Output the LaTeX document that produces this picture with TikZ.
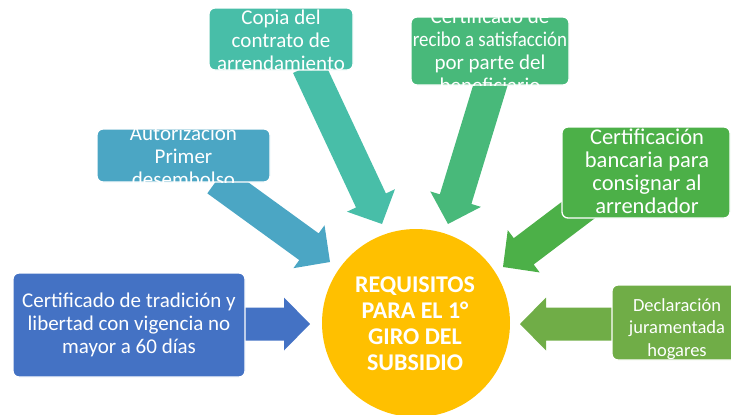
\documentclass[tikz,border=0pt]{standalone}
\usepackage{fontspec}
\setmainfont{Carlito}
\usetikzlibrary{calc}
\definecolor{cblue}{HTML}{4472C4}
\definecolor{cauto}{HTML}{4BA6C4}
\definecolor{ccopia}{HTML}{48BEA8}
\definecolor{crecibo}{HTML}{48B97A}
\definecolor{cbanc}{HTML}{4CB048}
\definecolor{cdecl}{HTML}{70AD47}
\definecolor{ccirc}{HTML}{FFC000}
\tikzset{
  box/.style={draw=white, line width=1.3pt, rounded corners=6pt, inner sep=0pt},
  btext/.style={text=white, align=center, inner sep=0pt, font=\fontsize{21}{23}\selectfont},
}
\newcommand\blockarrow[3]{%
  \coordinate (ab) at ($(#3)!26pt!(#2)$);
  \fill[#1] ($(#2)!16.5pt!90:(#3)$) -- ($(ab)!16.5pt!90:(#3)$) -- ($(ab)!26.5pt!90:(#3)$) -- (#3)
     -- ($(ab)!26.5pt!-90:(#3)$) -- ($(ab)!16.5pt!-90:(#3)$) -- ($(#2)!16.5pt!-90:(#3)$) -- cycle;
}
\begin{document}
\begin{tikzpicture}[x=1pt,y=-1pt]
\useasboundingbox (0,0) rectangle (731,415);
% arrow endpoints
\coordinate (aS) at (217,180); \coordinate (aT) at (330,262);
\coordinate (bS) at (308,66);  \coordinate (bT) at (382,224);
\coordinate (cS) at (492,80);  \coordinate (cT) at (448,224);
\coordinate (dS) at (585,205); \coordinate (dT) at (503,267);
\coordinate (eS) at (620,324); \coordinate (eT) at (520,324);
\coordinate (fS) at (240,324); \coordinate (fT) at (310,324);
\blockarrow{cauto}{aS}{aT}
\blockarrow{ccopia}{bS}{bT}
\blockarrow{crecibo}{cS}{cT}
\blockarrow{cbanc}{dS}{dT}
\blockarrow{cdecl}{eS}{eT}
\blockarrow{cblue}{fS}{fT}
% circle
\node[circle, fill=ccirc, minimum size=188pt, inner sep=0pt] (circ) at (416,323) {};
\node[text=white, align=center, inner sep=0pt, font=\bfseries\fontsize{24}{26}\selectfont] (circt) at (415,324)
  {REQUISITOS\\PARA EL 1°\\GIRO DEL\\SUBSIDIO};
% boxes
\node[box, fill=cblue, minimum width=232pt, minimum height=104pt] (cert) at (129,325) {};
\node[btext] (certt) at (129,325) {Certificado de tradición y\\libertad con vigencia no\\mayor a 60 días};
\node[box, fill=ccopia, minimum width=144pt, minimum height=62pt] (copia) at (281,39) {};
\node[btext] (copiat) at (281,40) {Copia del\\contrato de\\arrendamiento};
\node[box, fill=crecibo, minimum width=158pt, minimum height=68pt] (recibo) at (490,51) {};
\begin{scope}
\clip[rounded corners=6pt] (recibo.south west) rectangle (recibo.north east);
\node[btext] (recibot) at (490,51) {Certificado de\\\scalebox{0.9}[1]{recibo a satisfacción}\\por parte del\\beneficiario};
\end{scope}
\node[box, fill=cauto, minimum width=173pt, minimum height=53pt] (auto) at (183.5,155.5) {};
\begin{scope}
\clip[rounded corners=6pt] (auto.south west) rectangle (auto.north east);
\node[btext] (autot) at (183.5,156) {Autorización\\Primer\\desembolso};
\end{scope}
\node[box, fill=cbanc, minimum width=168pt, minimum height=91pt] (banc) at (646,172.5) {};
\node[btext, font=\fontsize{22.5}{23}\selectfont] (banct) at (647,171) {Certificación\\bancaria para\\consignar al\\arrendador};
\node[box, fill=cdecl, minimum width=130pt, minimum height=75pt] (decl) at (677,322.5) {};
\node[btext, font=\fontsize{18.5}{22.5}\selectfont] (declt) at (677,329) {Declaración\\juramentada\\hogares};
\end{tikzpicture}
\end{document}
